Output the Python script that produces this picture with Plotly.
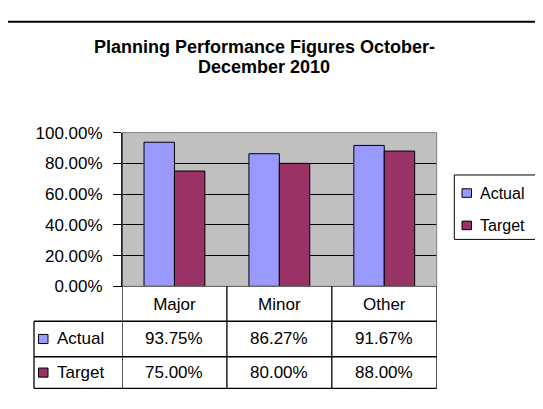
import plotly.graph_objects as go

# ---- data ----
categories = ["Major", "Minor", "Other"]
series_names = ["Actual", "Target"]
actual = [0.9375, 0.8627, 0.9167]
target = [0.75, 0.80, 0.88]
y_ticks = [0, 0.2, 0.4, 0.6, 0.8, 1.0]
title_lines = ["Planning Performance Figures October-", "December 2010"]
series_colors = ["#9999FF", "#993366"]

# the page body has an 8px margin: size the figure so the page is exactly 543x409
OX, OY = 8, 8
W, H = 543 - OX, 409 - 2 * OY


def xp(px):
    return (px - OX) / W


def yp(py):
    return 1 - (py - OY) / H


FONT = "Liberation Sans, Arial, sans-serif"
FS = 17

plot_left, plot_right, plot_top, plot_bottom = 122, 436.7, 129.5, 291
row_lines = [327.7, 365.0, 398.3]
table_left = 34

fig = go.Figure()
series_values = [actual, target]
for name, vals, col in zip(series_names, series_values, series_colors):
    fig.add_trace(go.Bar(
        x=categories, y=vals, name=name,
        marker=dict(color=col, line=dict(color="black", width=1)),
        showlegend=False, hoverinfo="x+y+name",
    ))

fig.update_layout(
    width=W, height=H,
    margin=dict(l=0, r=0, t=0, b=0),
    paper_bgcolor="white", plot_bgcolor="#C0C0C0",
    barmode="group", bargap=0.42, bargroupgap=0,
    font=dict(family=FONT, size=FS, color="black"),
    xaxis=dict(
        domain=[xp(plot_left), xp(plot_right)],
        showgrid=False, ticks="", showline=True, linecolor="black", linewidth=1,
        tickfont=dict(size=FS, color="black"), ticklabelstandoff=2,
        range=[-0.5, len(categories) - 0.5],
    ),
    yaxis=dict(
        domain=[yp(plot_bottom), yp(plot_top)],
        range=[0, 1], tickvals=y_ticks, tickformat=".2%",
        showgrid=True, gridcolor="black", gridwidth=1,
        ticks="outside", ticklen=8, tickcolor="black", tickwidth=1,
        showline=True, linecolor="black", linewidth=1, zeroline=False,
        tickfont=dict(size=FS, color="black"), ticklabelstandoff=7,
    ),
)

shapes = []
annotations = []

# outer chart border (right/bottom edges fall outside the view)
shapes.append(dict(type="rect", xref="paper", yref="paper",
                   x0=xp(7), x1=xp(570), y0=yp(13), y1=yp(440),
                   line=dict(color="black", width=2), layer="below"))

# plot area border (gray top/right)
shapes.append(dict(type="rect", xref="x domain", yref="y domain",
                   x0=0, x1=1, y0=0, y1=1,
                   line=dict(color="#808080", width=1), layer="above"))
shapes.append(dict(type="line", xref="x domain", yref="y domain",
                   x0=0, x1=0, y0=0, y1=1,
                   line=dict(color="black", width=1), layer="above"))

# title (two lines)
for line_text, cy in zip(title_lines, [39.5, 60.5]):
    annotations.append(dict(
        xref="paper", yref="paper", x=xp(264), y=yp(cy),
        xanchor="center", yanchor="middle", showarrow=False,
        text=line_text,
        font=dict(family=FONT, size=18, color="black", weight="bold"),
    ))

# data table: horizontal lines
for ly in row_lines:
    shapes.append(dict(type="line", xref="paper", yref="paper",
                       x0=xp(table_left), x1=xp(plot_right), y0=yp(ly), y1=yp(ly),
                       line=dict(color="black", width=1.3)))
# left edge of label column
shapes.append(dict(type="line", xref="paper", yref="paper",
                   x0=xp(table_left), x1=xp(table_left), y0=yp(row_lines[0]), y1=yp(row_lines[-1]),
                   line=dict(color="black", width=1.3)))
# column boundaries at category edges (through the x scale)
for i in range(len(categories) + 1):
    shapes.append(dict(type="line", xref="x", yref="paper",
                       x0=i - 0.5, x1=i - 0.5, y0=yp(plot_bottom), y1=yp(row_lines[-1]),
                       line=dict(color="black", width=1.3)))

row_tops = [row_lines[0], row_lines[1]]
row_bots = [row_lines[1], row_lines[2]]
for name, vals, col, rt, rb in zip(series_names, series_values, series_colors, row_tops, row_bots):
    cy = (rt + rb) / 2
    # key square
    shapes.append(dict(type="rect", xref="paper", yref="paper",
                       x0=xp(38.5), x1=xp(48), y0=yp(cy - 4.8), y1=yp(cy + 4.8),
                       fillcolor=col, line=dict(color="black", width=1)))
    annotations.append(dict(xref="paper", yref="paper", x=xp(55), y=yp(cy),
                            xanchor="left", yanchor="middle", showarrow=False,
                            text=name, font=dict(family=FONT, size=FS, color="black")))
    for cat, v in zip(categories, vals):
        annotations.append(dict(xref="x", yref="paper", x=cat, y=yp(cy),
                                xanchor="center", yanchor="middle", showarrow=False,
                                text=f"{v:.2%}", font=dict(family=FONT, size=FS, color="black")))

# legend
shapes.append(dict(type="rect", xref="paper", yref="paper",
                   x0=xp(454.3), x1=xp(540.5), y0=yp(174), y1=yp(241.7),
                   line=dict(color="black", width=1), fillcolor="white"))
for name, col, cy in zip(series_names, series_colors, [193.0, 227.0]):
    shapes.append(dict(type="rect", xref="paper", yref="paper",
                       x0=xp(462), x1=xp(471.5), y0=yp(cy - 4.5), y1=yp(cy + 4.5),
                       fillcolor=col, line=dict(color="black", width=1)))
    annotations.append(dict(xref="paper", yref="paper", x=xp(478), y=yp(cy),
                            xanchor="left", yanchor="middle", showarrow=False,
                            text=name, font=dict(family=FONT, size=16, color="black")))

fig.update_layout(shapes=shapes, annotations=annotations)
fig.write_html("out.html")
